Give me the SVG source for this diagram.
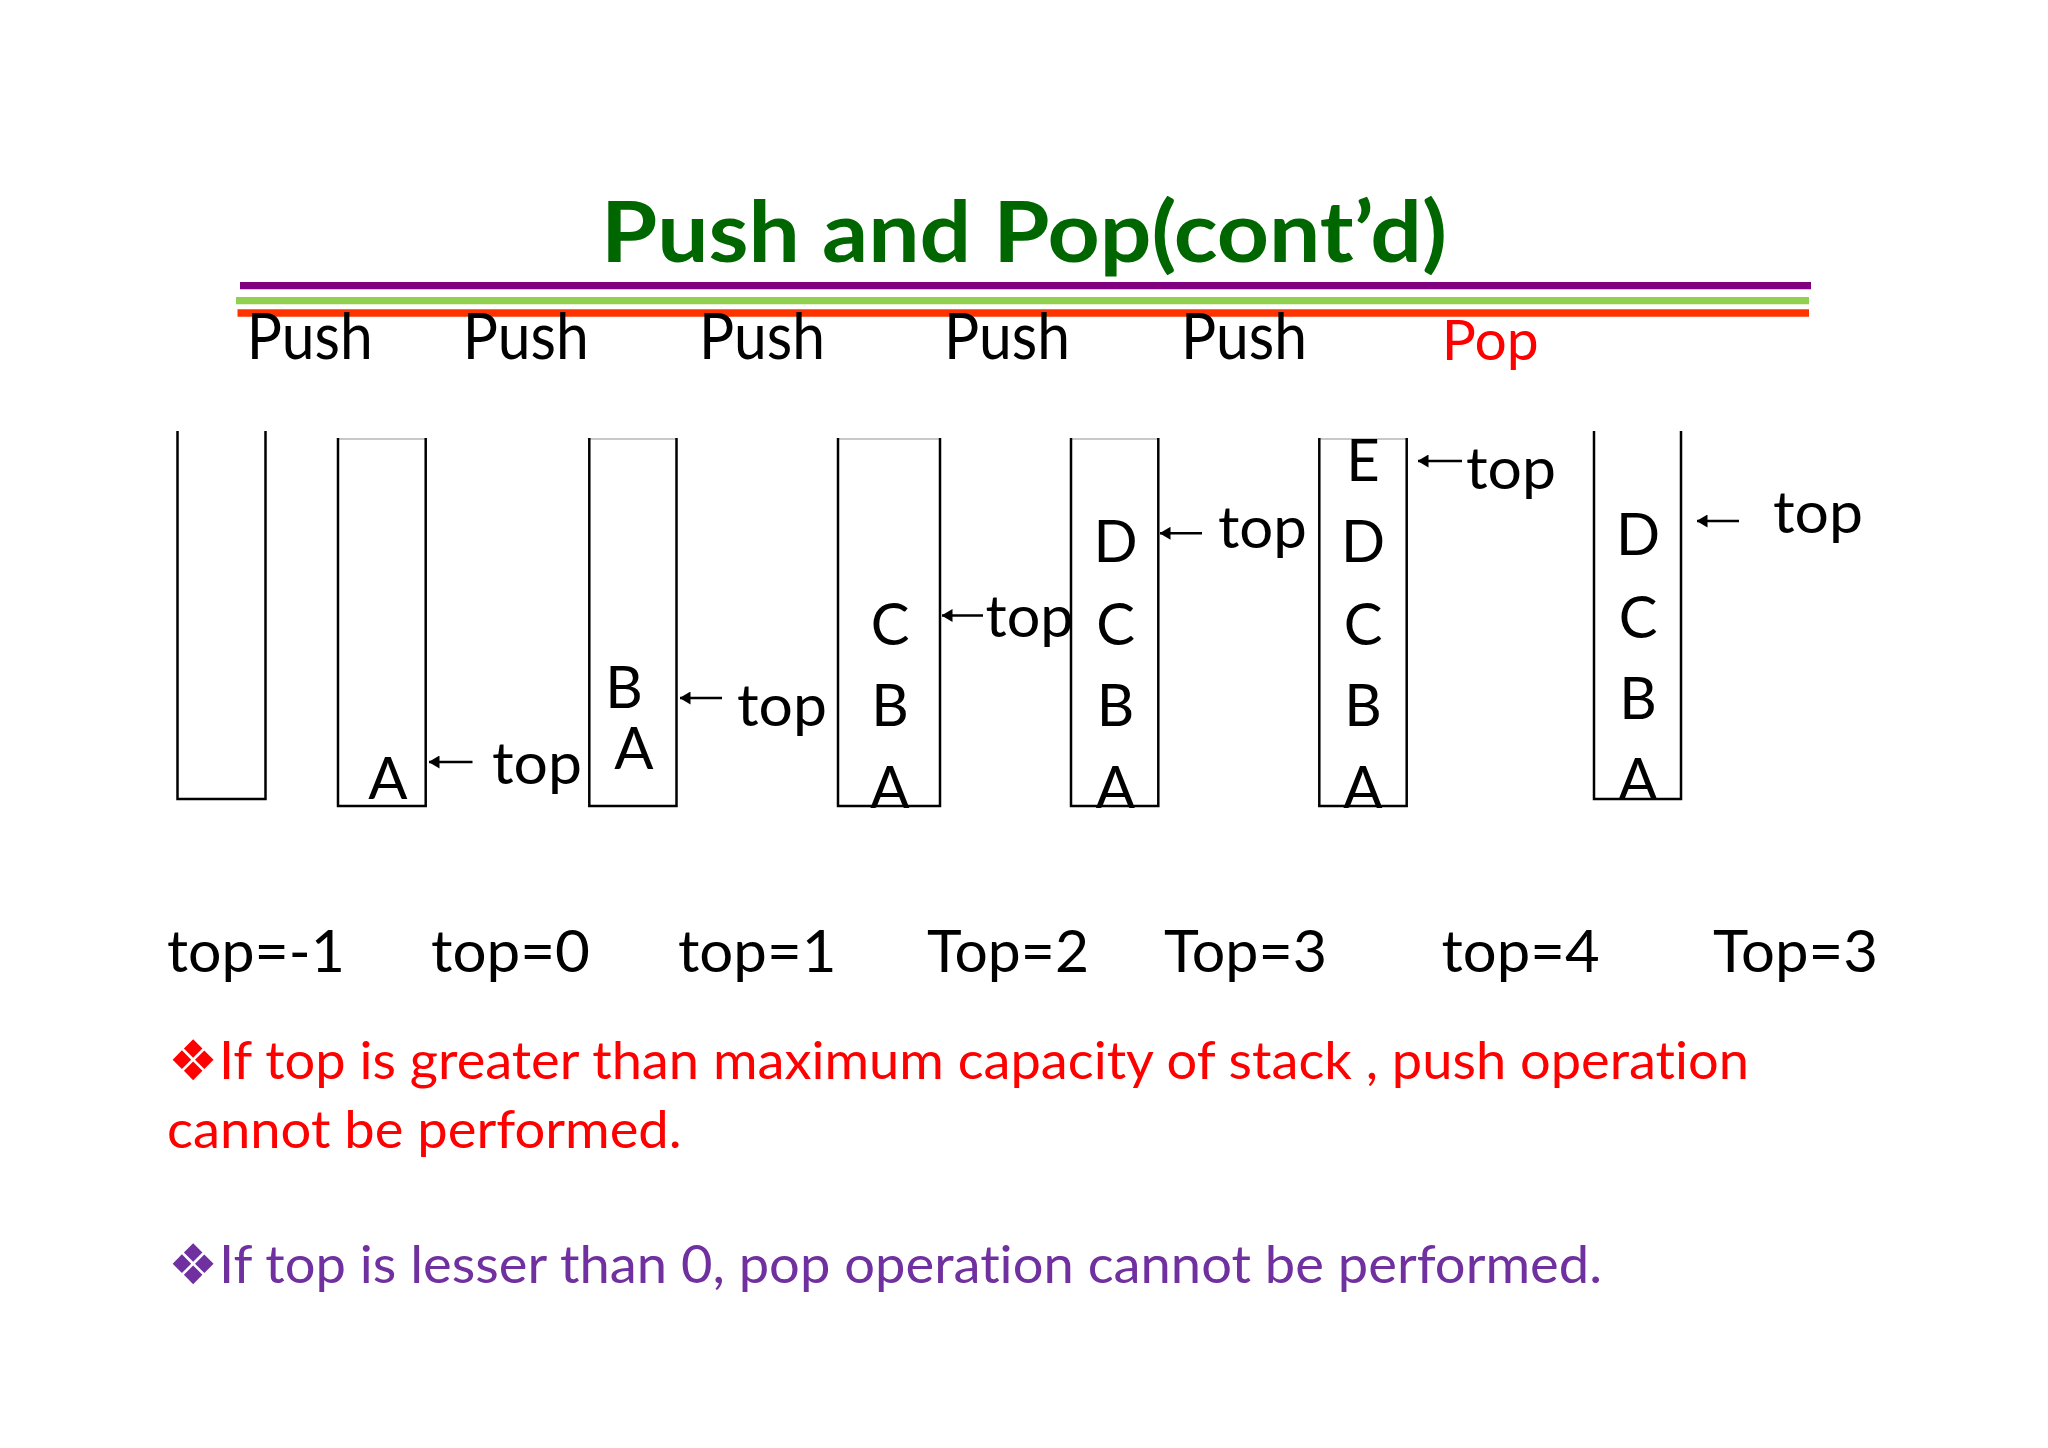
<svg xmlns="http://www.w3.org/2000/svg" width="2048" height="1448" viewBox="0 0 2048 1448">
<style>
.t{font-family:Lato,"Open Sans","Liberation Sans",sans-serif;fill:#000;font-variant-ligatures:none}
.title{font-family:Lato,"Open Sans","Liberation Sans",sans-serif;font-weight:bold;font-size:85px;fill:#006600}
.op{font-size:64px}
.pop{font-size:56px;fill:#ff0000}
.let{font-size:58px;text-anchor:middle}
.lbl{font-size:58px}
.bul{font-family:"DejaVu Sans",sans-serif;font-size:56px}
.body{font-size:52px}
.red{fill:#ff0000}
.pur{fill:#7030a0}
.side{fill:none;stroke:#000;stroke-width:2.5}
.cap{stroke:#c8c8c8;stroke-width:2}
.ptr{stroke:#000;stroke-width:2.6;fill:none;marker-end:url(#head)}
</style>
<defs>
<marker id="head" viewBox="0 0 11 13" refX="10.5" refY="6.5" markerUnits="userSpaceOnUse" markerWidth="11" markerHeight="13" orient="auto">
<path d="M0,0 L11,6.5 L0,13 z" fill="#000"/>
</marker>
</defs>
<rect width="2048" height="1448" fill="#ffffff"/>
<g id="title">
<text class="title" x="601" y="261.5" textLength="846" lengthAdjust="spacingAndGlyphs">Push and Pop(cont’d)</text>
<line x1="240" y1="285.7" x2="1811" y2="285.7" stroke="#800080" stroke-width="7.3"/>
<line x1="236" y1="300.7" x2="1809" y2="300.7" stroke="#92d050" stroke-width="7.3"/>
<line x1="237.5" y1="313" x2="1809" y2="313" stroke="#ff3300" stroke-width="7.3"/>
</g>
<g id="operations">
<text class="t op" x="246.7" y="359" textLength="126" lengthAdjust="spacingAndGlyphs">Push</text>
<text class="t op" x="462.7" y="359" textLength="126" lengthAdjust="spacingAndGlyphs">Push</text>
<text class="t op" x="699" y="359" textLength="126" lengthAdjust="spacingAndGlyphs">Push</text>
<text class="t op" x="944" y="359" textLength="126" lengthAdjust="spacingAndGlyphs">Push</text>
<text class="t op" x="1181" y="359" textLength="126" lengthAdjust="spacingAndGlyphs">Push</text>
<text class="t pop" x="1441.7" y="360" textLength="97" lengthAdjust="spacingAndGlyphs">Pop</text>
</g>
<g id="stack1">
<polyline class="side" points="177.5,431 177.5,799 265.5,799 265.5,431"/>
</g>
<g id="stack2">
<line class="cap" x1="338" y1="439" x2="425.7" y2="439"/>
<polyline class="side" points="338,438 338,806 425.7,806 425.7,438"/>
<text class="t let" x="388" y="799">A</text>
</g>
<g id="stack3">
<line class="cap" x1="589.3" y1="439" x2="676.5" y2="439"/>
<polyline class="side" points="589.3,438 589.3,806 676.5,806 676.5,438"/>
<text class="t let" x="624" y="708">B</text>
<text class="t let" x="634" y="769">A</text>
</g>
<g id="stack4">
<line class="cap" x1="838" y1="439" x2="940" y2="439"/>
<polyline class="side" points="838,438 838,806 940,806 940,438"/>
<text class="t let" x="890" y="645">C</text>
<text class="t let" x="890" y="726">B</text>
<text class="t let" x="890" y="808">A</text>
</g>
<g id="stack5">
<line class="cap" x1="1071" y1="439" x2="1158.3" y2="439"/>
<polyline class="side" points="1071,438 1071,806 1158.3,806 1158.3,438"/>
<text class="t let" x="1115.5" y="562">D</text>
<text class="t let" x="1115.5" y="645">C</text>
<text class="t let" x="1115.5" y="726">B</text>
<text class="t let" x="1115.5" y="808">A</text>
</g>
<g id="stack6">
<line class="cap" x1="1319.3" y1="439" x2="1406.7" y2="439"/>
<polyline class="side" points="1319.3,438 1319.3,806 1406.7,806 1406.7,438"/>
<text class="t let" x="1363" y="481">E</text>
<text class="t let" x="1363" y="562">D</text>
<text class="t let" x="1363" y="645">C</text>
<text class="t let" x="1363" y="726">B</text>
<text class="t let" x="1363" y="808">A</text>
</g>
<g id="stack7">
<polyline class="side" points="1594,431 1594,799 1681,799 1681,431"/>
<text class="t let" x="1638" y="555">D</text>
<text class="t let" x="1638" y="638">C</text>
<text class="t let" x="1638" y="719">B</text>
<text class="t let" x="1638" y="800">A</text>
</g>
<g id="connectors">
<line class="ptr" x1="472.5" y1="762" x2="429" y2="762"/>
<line class="ptr" x1="722" y1="698" x2="680" y2="698"/>
<line class="ptr" x1="983" y1="615.5" x2="942" y2="615.5"/>
<line class="ptr" x1="1202" y1="533.3" x2="1160" y2="533.3"/>
<line class="ptr" x1="1462" y1="461" x2="1418" y2="461"/>
<line class="ptr" x1="1739" y1="521" x2="1697" y2="521"/>
</g>
<g id="top-pointers">
<text class="t lbl" x="492" y="784" textLength="90" lengthAdjust="spacingAndGlyphs">top</text>
<text class="t lbl" x="737" y="726" textLength="90" lengthAdjust="spacingAndGlyphs">top</text>
<text class="t lbl" x="985.6" y="636.5" textLength="88" lengthAdjust="spacingAndGlyphs">top</text>
<text class="t lbl" x="1218" y="548" textLength="89" lengthAdjust="spacingAndGlyphs">top</text>
<text class="t lbl" x="1466" y="488.6" textLength="90" lengthAdjust="spacingAndGlyphs">top</text>
<text class="t lbl" x="1773" y="533" textLength="90" lengthAdjust="spacingAndGlyphs">top</text>
</g>
<g id="top-values">
<text class="t lbl" x="167" y="972" textLength="178" lengthAdjust="spacingAndGlyphs">top=-1</text>
<text class="t lbl" x="431" y="972" textLength="159" lengthAdjust="spacingAndGlyphs">top=0</text>
<text class="t lbl" x="678" y="972" textLength="158.6" lengthAdjust="spacingAndGlyphs">top=1</text>
<text class="t lbl" x="927" y="972" textLength="162" lengthAdjust="spacingAndGlyphs">Top=2</text>
<text class="t lbl" x="1164" y="972" textLength="163" lengthAdjust="spacingAndGlyphs">Top=3</text>
<text class="t lbl" x="1441.6" y="972" textLength="158" lengthAdjust="spacingAndGlyphs">top=4</text>
<text class="t lbl" x="1713" y="972" textLength="165" lengthAdjust="spacingAndGlyphs">Top=3</text>
</g>
<g id="notes">
<text class="bul red" x="168" y="1080">❖</text>
<text class="t body red" x="219" y="1079" textLength="1530" lengthAdjust="spacingAndGlyphs">If top is greater than maximum capacity of stack , push operation</text>
<text class="t body red" x="167" y="1148" textLength="514.6" lengthAdjust="spacingAndGlyphs">cannot be performed.</text>
<text class="bul pur" x="168" y="1284">❖</text>
<text class="t body pur" x="219" y="1283" textLength="1383" lengthAdjust="spacingAndGlyphs">If top is lesser than 0, pop operation cannot be performed.</text>
</g>
</svg>
